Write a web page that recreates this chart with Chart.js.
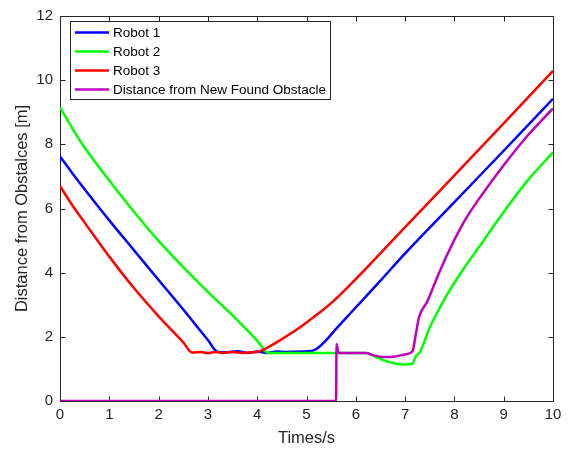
<!DOCTYPE html>
<html>
<head>
<meta charset="utf-8">
<script src="https://cdn.jsdelivr.net/npm/chart.js@4.4.1/dist/chart.umd.min.js"></script>
<style>
  html, body { margin: 0; padding: 0; background: #fff; }
  #wrap { width: 568px; height: 450px; }
</style>
</head>
<body>
<div id="wrap"><canvas id="dist" width="568" height="450"></canvas></div>
<script>
// time [s], distance [m]
const robot1 = [
  [0, 7.62], [0.25, 7.1], [0.5, 6.6], [1, 5.63], [1.5, 4.7], [2, 3.77],
  [2.5, 2.85], [3, 1.9], [3.2, 1.53], [3.4, 1.52], [3.6, 1.55], [3.8, 1.5],
  [4.0, 1.54], [4.2, 1.5], [4.4, 1.54], [4.6, 1.53], [4.9, 1.54], [5.1, 1.56],
  [5.2, 1.62], [5.4, 1.9], [5.6, 2.25], [5.9, 2.75], [6.5, 3.75], [7, 4.6],
  [8, 6.2], [9, 7.8], [10, 9.42]
];
const robot2 = [
  [0, 9.15], [0.25, 8.5], [0.5, 7.9], [1, 6.87], [1.5, 5.9], [2, 4.99],
  [2.5, 4.17], [3, 3.4], [3.5, 2.67], [4, 1.88], [4.22, 1.5], [5, 1.5],
  [6, 1.5], [6.2, 1.5], [6.4, 1.38], [6.6, 1.25], [6.8, 1.17], [7.0, 1.14],
  [7.15, 1.16], [7.22, 1.4], [7.3, 1.52], [7.5, 2.29], [7.85, 3.31],
  [8.2, 4.15], [8.5, 4.8], [9.1, 6.1], [9.5, 6.9], [10, 7.75]
];
const robot3 = [
  [0, 6.7], [0.25, 6.1], [0.5, 5.56], [1, 4.5], [1.5, 3.52], [2, 2.64],
  [2.5, 1.83], [2.68, 1.51], [2.85, 1.53], [3.0, 1.49], [3.15, 1.53],
  [3.3, 1.5], [3.5, 1.53], [3.7, 1.5], [3.9, 1.52], [4.0, 1.53], [4.2, 1.66],
  [4.5, 1.93], [4.9, 2.33], [5.2, 2.68], [5.5, 3.05], [6, 3.8], [7, 5.42],
  [8, 7.03], [9, 8.65], [10, 10.29]
];
const obstacle = [
  [0, 0], [5.6, 0], [5.61, 1.78], [5.65, 1.5], [6.2, 1.5], [6.35, 1.43],
  [6.55, 1.37], [6.8, 1.39], [7.0, 1.45], [7.15, 1.55], [7.22, 2.1],
  [7.28, 2.6], [7.45, 3.1], [7.65, 3.85], [7.85, 4.55], [8.2, 5.6],
  [8.5, 6.3], [9, 7.35], [9.5, 8.3], [10, 9.12]
];

const seriesNames = ["Robot 1", "Robot 2", "Robot 3", "Distance from New Found Obstacle"];
const seriesColors = ["#0000ff", "#00ff00", "#ff0000", "#bf00bf"];

const FONT = "'Liberation Sans', Arial, Helvetica, sans-serif";
const AXIS = "#262626";

function toPoints(arr) {
  return arr.map(p => ({ x: p[0], y: p[1] }));
}

// box, inward ticks on all four sides
const boxPlugin = {
  id: "box",
  beforeDatasetsDraw(chart) {
    const { ctx, chartArea: a, scales } = chart;
    const L = Math.round(a.left) + 0.5, R = Math.round(a.right) + 0.5;
    const T = Math.round(a.top) + 0.5, B = Math.round(a.bottom) + 0.5;
    const len = 5;
    ctx.save();
    ctx.strokeStyle = AXIS;
    ctx.lineWidth = 1;
    ctx.beginPath();
    scales.x.ticks.forEach(t => {
      const px = Math.round(scales.x.getPixelForValue(t.value)) + 0.5;
      ctx.moveTo(px, B); ctx.lineTo(px, B - len);
      ctx.moveTo(px, T); ctx.lineTo(px, T + len);
    });
    scales.y.ticks.forEach(t => {
      const py = Math.round(scales.y.getPixelForValue(t.value)) + 0.5;
      ctx.moveTo(L, py); ctx.lineTo(L + len, py);
      ctx.moveTo(R, py); ctx.lineTo(R - len, py);
    });
    ctx.rect(L, T, R - L, B - T);
    ctx.stroke();
    ctx.restore();
  }
};

// legend box in the upper left corner
const legendPlugin = {
  id: "boxLegend",
  afterDraw(chart) {
    const { ctx } = chart;
    const x0 = 70.5, y0 = 21.5, w = 260, h = 78;
    const rowH = 19, firstRow = 32.5;
    ctx.save();
    ctx.fillStyle = "#fff";
    ctx.fillRect(x0, y0, w, h);
    ctx.strokeStyle = AXIS;
    ctx.lineWidth = 1;
    ctx.strokeRect(x0, y0, w, h);
    ctx.font = "13.5px " + FONT;
    ctx.textBaseline = "middle";
    ctx.textAlign = "left";
    chart.data.datasets.forEach((ds, i) => {
      const y = firstRow + i * rowH;
      ctx.strokeStyle = ds.borderColor;
      ctx.lineWidth = 2.5;
      ctx.beginPath();
      ctx.moveTo(75, y);
      ctx.lineTo(109, y);
      ctx.stroke();
      ctx.fillStyle = "#000";
      ctx.fillText(ds.label, 113, y + 0.5);
    });
    ctx.restore();
  }
};

const allSeries = [robot1, robot2, robot3, obstacle];

const ctx = document.getElementById("dist").getContext("2d");
new Chart(ctx, {
  type: "line",
  data: {
    datasets: allSeries.map((s, i) => ({
      label: seriesNames[i],
      data: toPoints(s),
      borderColor: seriesColors[i],
      borderWidth: 2.5,
      pointRadius: 0,
      fill: false,
      cubicInterpolationMode: "monotone",
      order: allSeries.length - i,
    })),
  },
  options: {
    responsive: false,
    animation: false,
    layout: { padding: { top: 11, right: 15, left: 0, bottom: 0 } },
    plugins: {
      legend: { display: false },
      tooltip: { enabled: false },
    },
    scales: {
      x: {
        type: "linear",
        min: 0,
        max: 10,
        ticks: { stepSize: 1, padding: 5, color: AXIS, font: { family: FONT, size: 15 } },
        grid: { display: false, drawTicks: false },
        border: { display: false },
        title: {
          display: true,
          text: "Times/s",
          color: AXIS,
          font: { family: FONT, size: 16.5 },
          padding: { top: 0, bottom: 2 },
        },
        afterFit(scale) { scale.height = 49; },
      },
      y: {
        min: 0,
        max: 12,
        ticks: { stepSize: 2, padding: 7, color: AXIS, font: { family: FONT, size: 15 } },
        grid: { display: false, drawTicks: false },
        border: { display: false },
        title: {
          display: true,
          text: "Distance from Obstalces [m]",
          color: AXIS,
          font: { family: FONT, size: 16.5 },
          padding: { top: 13, bottom: 0 },
        },
        afterFit(scale) { scale.width = 60; },
      },
    },
  },
  plugins: [boxPlugin, legendPlugin],
});
</script>
</body>
</html>
